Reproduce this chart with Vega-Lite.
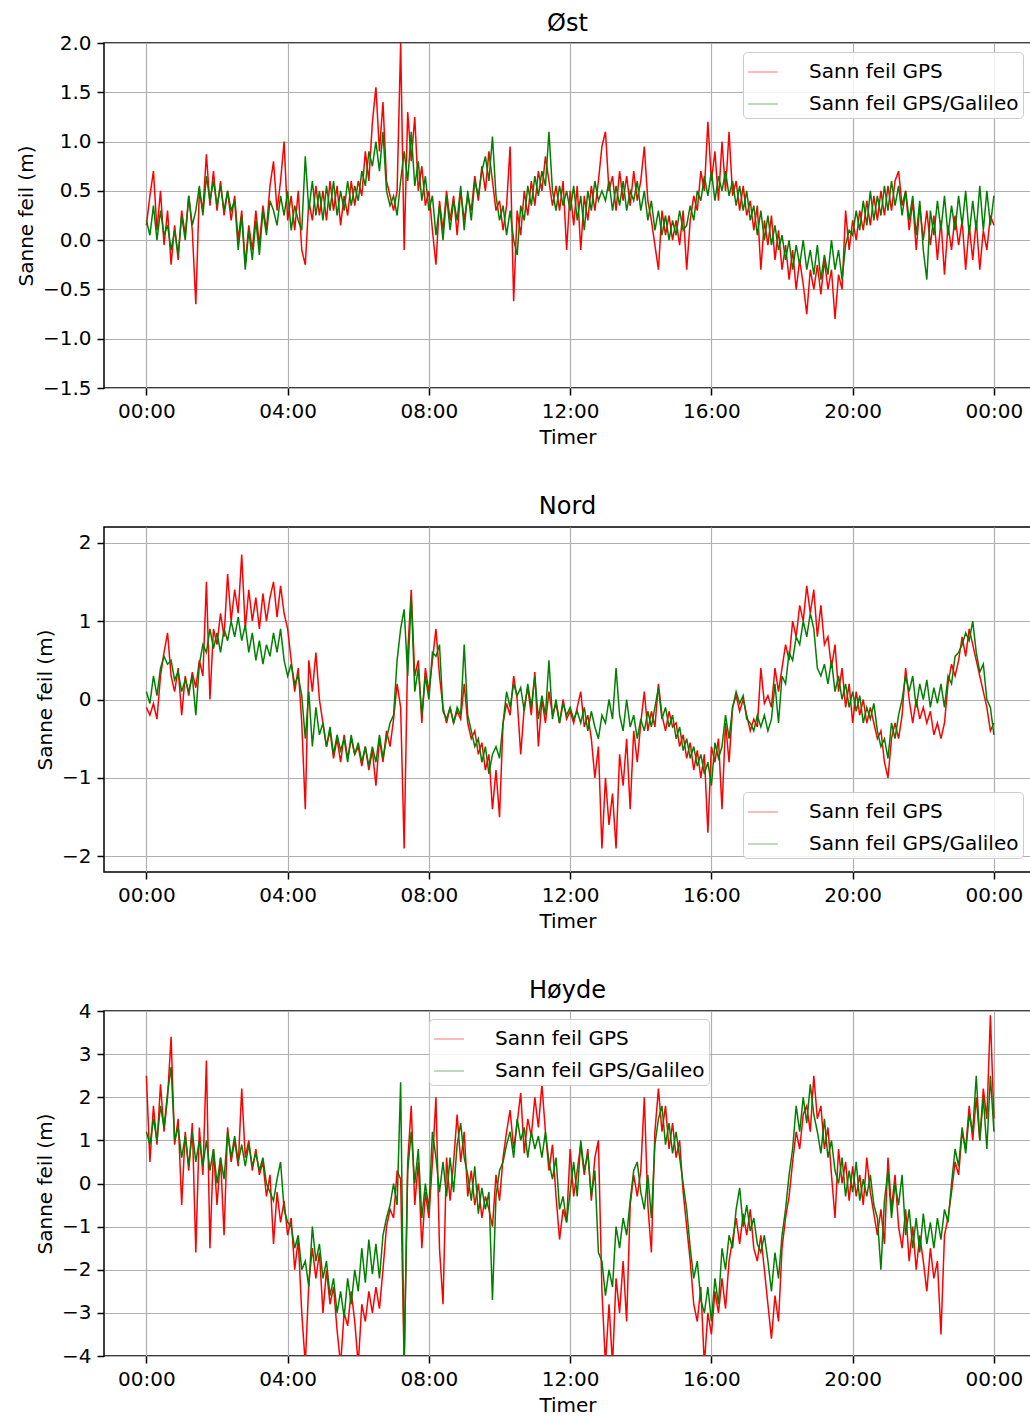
{
"$schema": "https://vega.github.io/schema/vega-lite/v6.json",
"padding": {"left": 15, "top": 11, "right": 0, "bottom": 0},
"spacing": 46,
"resolve": {"scale": {"color": "independent"}, "legend": {"color": "independent"}},
"config": {
 "font": "DejaVu Sans",
 "view": {"stroke": "black", "strokeWidth": 1.5},
 "axis": {"labelFontSize": 20, "titleFontSize": 20, "labelColor": "black", "titleColor": "black", "titleFontWeight": "normal", "domain": false, "tickColor": "black", "tickSize": 7, "tickWidth": 1.5, "labelPadding": 6, "titlePadding": 6, "gridColor": "#b0b0b0", "gridWidth": 1.2, "gridOpacity": 1, "labelFont": "DejaVu Sans", "titleFont": "DejaVu Sans"},
 "title": {"fontSize": 24, "fontWeight": "normal", "font": "DejaVu Sans", "color": "black"},
 "legend": {"strokeColor": "#cccccc", "fillColor": "rgba(255,255,255,0.85)", "cornerRadius": 4, "padding": 4, "labelFontSize": 20, "labelFont": "DejaVu Sans", "labelColor": "black", "labelLimit": 400, "symbolType": "stroke", "symbolSize": 900, "symbolStrokeWidth": 1.5, "labelOffset": 30, "rowPadding": 6}
},
"datasets": {
"E": [
{"t":0,"a":0.15,"b":0.2},{"t":1,"a":0.45,"b":0.05},{"t":2,"a":0.7,"b":0.35},{"t":3,"a":0.1,"b":0.0},{"t":4,"a":0.5,"b":0.3},{"t":5,"a":-0.05,"b":0.05},{"t":6,"a":0.3,"b":0.15},{"t":7,"a":-0.25,"b":-0.1},{"t":8,"a":0.15,"b":0.1},{"t":9,"a":-0.2,"b":-0.15},
{"t":10,"a":0.3,"b":0.25},{"t":11,"a":0.05,"b":0.0},{"t":12,"a":0.45,"b":0.45},{"t":13,"a":0.1,"b":0.15},{"t":14,"a":-0.65,"b":0.3},{"t":15,"a":0.5,"b":0.55},{"t":16,"a":0.3,"b":0.25},{"t":17,"a":0.87,"b":0.65},{"t":18,"a":0.35,"b":0.4},{"t":19,"a":0.7,"b":0.6},
{"t":20,"a":0.3,"b":0.35},{"t":21,"a":0.6,"b":0.55},{"t":22,"a":0.25,"b":0.3},{"t":23,"a":0.5,"b":0.5},{"t":24,"a":0.2,"b":0.3},{"t":25,"a":0.45,"b":0.4},{"t":26,"a":0.0,"b":-0.1},{"t":27,"a":0.3,"b":0.25},{"t":28,"a":-0.25,"b":-0.3},{"t":29,"a":0.15,"b":0.1},
{"t":30,"a":-0.1,"b":-0.2},{"t":31,"a":0.3,"b":0.2},{"t":32,"a":-0.05,"b":-0.15},{"t":33,"a":0.35,"b":0.3},{"t":34,"a":0.1,"b":0.05},{"t":35,"a":0.55,"b":0.4},{"t":36,"a":0.8,"b":0.3},{"t":37,"a":0.3,"b":0.15},{"t":38,"a":0.6,"b":0.45},{"t":39,"a":1.0,"b":0.25},
{"t":40,"a":0.2,"b":0.5},{"t":41,"a":0.45,"b":0.1},{"t":42,"a":0.1,"b":0.35},{"t":43,"a":0.5,"b":0.2},{"t":44,"a":-0.1,"b":0.1},{"t":45,"a":-0.25,"b":0.85},{"t":46,"a":0.4,"b":0.3},{"t":47,"a":0.2,"b":0.6},{"t":48,"a":0.55,"b":0.25},{"t":49,"a":0.25,"b":0.5},
{"t":50,"a":0.5,"b":0.2},{"t":51,"a":0.2,"b":0.55},{"t":52,"a":0.6,"b":0.3},{"t":53,"a":0.3,"b":0.6},{"t":54,"a":0.55,"b":0.25},{"t":55,"a":0.15,"b":0.5},{"t":56,"a":0.45,"b":0.3},{"t":57,"a":0.25,"b":0.6},{"t":58,"a":0.6,"b":0.35},{"t":59,"a":0.35,"b":0.55},
{"t":60,"a":0.6,"b":0.4},{"t":61,"a":0.45,"b":0.7},{"t":62,"a":0.9,"b":0.55},{"t":63,"a":0.6,"b":0.9},{"t":64,"a":1.2,"b":0.75},{"t":65,"a":1.55,"b":1.0},{"t":66,"a":0.9,"b":0.7},{"t":67,"a":1.4,"b":1.1},{"t":68,"a":0.6,"b":0.5},{"t":69,"a":0.45,"b":0.35},
{"t":70,"a":0.3,"b":0.45},{"t":71,"a":0.5,"b":0.25},{"t":72,"a":2.0,"b":0.6},{"t":73,"a":-0.1,"b":0.9},{"t":74,"a":1.3,"b":0.6},{"t":75,"a":0.8,"b":1.1},{"t":76,"a":1.25,"b":0.55},{"t":77,"a":0.5,"b":0.8},{"t":78,"a":0.75,"b":0.4},{"t":79,"a":0.35,"b":0.65},
{"t":80,"a":0.5,"b":0.3},{"t":81,"a":0.1,"b":0.45},{"t":82,"a":-0.25,"b":0.05},{"t":83,"a":0.4,"b":0.35},{"t":84,"a":0.1,"b":0.0},{"t":85,"a":0.5,"b":0.45},{"t":86,"a":0.2,"b":0.1},{"t":87,"a":0.45,"b":0.4},{"t":88,"a":0.05,"b":0.2},{"t":89,"a":0.5,"b":0.55},
{"t":90,"a":0.2,"b":0.1},{"t":91,"a":0.45,"b":0.5},{"t":92,"a":0.3,"b":0.2},{"t":93,"a":0.65,"b":0.6},{"t":94,"a":0.4,"b":0.45},{"t":95,"a":0.75,"b":0.7},{"t":96,"a":0.5,"b":0.85},{"t":97,"a":0.9,"b":0.6},{"t":98,"a":0.6,"b":1.05},{"t":99,"a":0.3,"b":0.45},
{"t":100,"a":0.4,"b":0.2},{"t":101,"a":0.1,"b":0.35},{"t":102,"a":0.35,"b":0.05},{"t":103,"a":0.95,"b":0.3},{"t":104,"a":-0.62,"b":0.0},{"t":105,"a":0.3,"b":-0.15},{"t":106,"a":0.05,"b":0.35},{"t":107,"a":0.5,"b":0.2},{"t":108,"a":0.25,"b":0.55},{"t":109,"a":0.6,"b":0.35},
{"t":110,"a":0.35,"b":0.65},{"t":111,"a":0.7,"b":0.45},{"t":112,"a":0.5,"b":0.7},{"t":113,"a":0.85,"b":0.55},{"t":114,"a":0.6,"b":1.1},{"t":115,"a":0.35,"b":0.5},{"t":116,"a":0.55,"b":0.3},{"t":117,"a":0.3,"b":0.55},{"t":118,"a":0.6,"b":0.35},{"t":119,"a":-0.1,"b":0.5},
{"t":120,"a":0.5,"b":0.3},{"t":121,"a":0.15,"b":0.55},{"t":122,"a":0.55,"b":0.2},{"t":123,"a":-0.1,"b":0.45},{"t":124,"a":0.45,"b":0.1},{"t":125,"a":0.2,"b":0.5},{"t":126,"a":0.55,"b":0.3},{"t":127,"a":0.3,"b":0.6},{"t":128,"a":0.6,"b":0.4},{"t":129,"a":0.95,"b":0.5},
{"t":130,"a":1.1,"b":0.4},{"t":131,"a":0.5,"b":0.6},{"t":132,"a":0.65,"b":0.3},{"t":133,"a":0.3,"b":0.55},{"t":134,"a":0.7,"b":0.35},{"t":135,"a":0.4,"b":0.6},{"t":136,"a":0.65,"b":0.3},{"t":137,"a":0.35,"b":0.5},{"t":138,"a":0.7,"b":0.4},{"t":139,"a":0.4,"b":0.6},
{"t":140,"a":0.6,"b":0.3},{"t":141,"a":0.95,"b":0.5},{"t":142,"a":0.4,"b":0.2},{"t":143,"a":0.2,"b":0.4},{"t":144,"a":-0.05,"b":0.1},{"t":145,"a":-0.3,"b":0.3},{"t":146,"a":0.3,"b":0.05},{"t":147,"a":0.05,"b":0.25},{"t":148,"a":0.25,"b":0.0},{"t":149,"a":0.0,"b":0.2},
{"t":150,"a":0.2,"b":0.05},{"t":151,"a":-0.05,"b":0.3},{"t":152,"a":0.3,"b":0.1},{"t":153,"a":-0.3,"b":0.15},{"t":154,"a":0.2,"b":0.35},{"t":155,"a":0.45,"b":0.2},{"t":156,"a":0.3,"b":0.5},{"t":157,"a":0.7,"b":0.4},{"t":158,"a":0.5,"b":0.65},{"t":159,"a":1.2,"b":0.45},
{"t":160,"a":0.6,"b":0.7},{"t":161,"a":0.9,"b":0.4},{"t":162,"a":0.4,"b":0.65},{"t":163,"a":1.0,"b":0.5},{"t":164,"a":0.5,"b":0.7},{"t":165,"a":1.1,"b":0.45},{"t":166,"a":0.45,"b":0.6},{"t":167,"a":0.6,"b":0.35},{"t":168,"a":0.3,"b":0.55},{"t":169,"a":0.55,"b":0.3},
{"t":170,"a":0.25,"b":0.5},{"t":171,"a":0.4,"b":0.2},{"t":172,"a":0.1,"b":0.35},{"t":173,"a":0.35,"b":0.05},{"t":174,"a":-0.3,"b":0.3},{"t":175,"a":0.2,"b":0.0},{"t":176,"a":-0.05,"b":0.25},{"t":177,"a":0.25,"b":-0.05},{"t":178,"a":-0.2,"b":0.15},{"t":179,"a":0.1,"b":-0.1},
{"t":180,"a":-0.3,"b":0.05},{"t":181,"a":-0.05,"b":-0.2},{"t":182,"a":-0.4,"b":0.0},{"t":183,"a":-0.1,"b":-0.3},{"t":184,"a":-0.5,"b":-0.05},{"t":185,"a":-0.2,"b":-0.25},{"t":186,"a":-0.45,"b":0.0},{"t":187,"a":-0.75,"b":-0.3},{"t":188,"a":-0.3,"b":-0.1},{"t":189,"a":-0.5,"b":-0.35},
{"t":190,"a":-0.25,"b":-0.05},{"t":191,"a":-0.55,"b":-0.4},{"t":192,"a":-0.2,"b":-0.15},{"t":193,"a":-0.5,"b":-0.35},{"t":194,"a":-0.3,"b":0.0},{"t":195,"a":-0.8,"b":-0.3},{"t":196,"a":-0.35,"b":-0.1},{"t":197,"a":-0.5,"b":-0.4},{"t":198,"a":0.3,"b":-0.05},{"t":199,"a":-0.1,"b":0.1},
{"t":200,"a":0.2,"b":0.05},{"t":201,"a":0.0,"b":0.3},{"t":202,"a":0.3,"b":0.1},{"t":203,"a":0.1,"b":0.4},{"t":204,"a":0.4,"b":0.15},{"t":205,"a":0.15,"b":0.5},{"t":206,"a":0.45,"b":0.2},{"t":207,"a":0.2,"b":0.45},{"t":208,"a":0.5,"b":0.25},{"t":209,"a":0.25,"b":0.55},
{"t":210,"a":0.55,"b":0.3},{"t":211,"a":0.3,"b":0.6},{"t":212,"a":0.6,"b":0.35},{"t":213,"a":0.7,"b":0.55},{"t":214,"a":0.35,"b":0.25},{"t":215,"a":0.5,"b":0.5},{"t":216,"a":0.1,"b":0.2},{"t":217,"a":0.4,"b":0.45},{"t":218,"a":-0.1,"b":0.05},{"t":219,"a":0.35,"b":0.4},
{"t":220,"a":0.0,"b":-0.1},{"t":221,"a":0.3,"b":-0.4},{"t":222,"a":-0.05,"b":0.3},{"t":223,"a":0.25,"b":0.05},{"t":224,"a":-0.2,"b":0.4},{"t":225,"a":0.2,"b":0.1},{"t":226,"a":-0.35,"b":0.45},{"t":227,"a":0.15,"b":0.05},{"t":228,"a":-0.1,"b":0.35},{"t":229,"a":0.25,"b":0.1},
{"t":230,"a":-0.05,"b":0.45},{"t":231,"a":0.2,"b":0.15},{"t":232,"a":-0.3,"b":0.5},{"t":233,"a":0.15,"b":0.05},{"t":234,"a":-0.2,"b":0.4},{"t":235,"a":0.2,"b":0.1},{"t":236,"a":-0.3,"b":0.55},{"t":237,"a":0.1,"b":0.1},{"t":238,"a":-0.1,"b":0.5},{"t":239,"a":0.25,"b":0.15},
{"t":240,"a":0.15,"b":0.45}
],
"N": [
{"t":0,"a":-0.1,"b":0.1},{"t":1,"a":-0.2,"b":-0.05},{"t":2,"a":-0.05,"b":0.3},{"t":3,"a":-0.25,"b":0.05},{"t":4,"a":0.3,"b":0.4},{"t":5,"a":0.6,"b":0.55},{"t":6,"a":0.85,"b":0.45},{"t":7,"a":0.3,"b":0.5},{"t":8,"a":0.1,"b":0.25},{"t":9,"a":0.4,"b":0.35},
{"t":10,"a":-0.2,"b":0.1},{"t":11,"a":0.3,"b":0.25},{"t":12,"a":0.05,"b":0.1},{"t":13,"a":0.35,"b":0.3},{"t":14,"a":0.15,"b":-0.2},{"t":15,"a":0.5,"b":0.45},{"t":16,"a":0.3,"b":0.7},{"t":17,"a":1.5,"b":0.6},{"t":18,"a":0.0,"b":0.9},{"t":19,"a":0.9,"b":0.65},
{"t":20,"a":0.7,"b":0.85},{"t":21,"a":1.1,"b":0.6},{"t":22,"a":0.8,"b":0.9},{"t":23,"a":1.6,"b":0.75},{"t":24,"a":1.0,"b":1.0},{"t":25,"a":1.4,"b":0.8},{"t":26,"a":1.1,"b":1.05},{"t":27,"a":1.85,"b":0.75},{"t":28,"a":0.9,"b":0.95},{"t":29,"a":1.4,"b":0.6},
{"t":30,"a":1.0,"b":0.85},{"t":31,"a":1.3,"b":0.5},{"t":32,"a":0.9,"b":0.75},{"t":33,"a":1.35,"b":0.45},{"t":34,"a":1.0,"b":0.7},{"t":35,"a":1.3,"b":0.55},{"t":36,"a":1.5,"b":0.85},{"t":37,"a":1.05,"b":0.6},{"t":38,"a":1.45,"b":0.9},{"t":39,"a":1.1,"b":0.5},
{"t":40,"a":0.9,"b":0.3},{"t":41,"a":0.5,"b":0.45},{"t":42,"a":0.1,"b":0.2},{"t":43,"a":0.4,"b":0.3},{"t":44,"a":-0.3,"b":0.05},{"t":45,"a":-1.4,"b":-0.5},{"t":46,"a":0.5,"b":0.1},{"t":47,"a":0.1,"b":-0.6},{"t":48,"a":0.6,"b":-0.1},{"t":49,"a":0.0,"b":-0.45},
{"t":50,"a":-0.3,"b":-0.3},{"t":51,"a":-0.6,"b":-0.6},{"t":52,"a":-0.4,"b":-0.35},{"t":53,"a":-0.75,"b":-0.7},{"t":54,"a":-0.5,"b":-0.45},{"t":55,"a":-0.8,"b":-0.65},{"t":56,"a":-0.45,"b":-0.5},{"t":57,"a":-0.75,"b":-0.8},{"t":58,"a":-0.5,"b":-0.45},{"t":59,"a":-0.7,"b":-0.7},
{"t":60,"a":-0.6,"b":-0.55},{"t":61,"a":-0.85,"b":-0.8},{"t":62,"a":-0.6,"b":-0.6},{"t":63,"a":-0.9,"b":-0.85},{"t":64,"a":-0.65,"b":-0.6},{"t":65,"a":-1.1,"b":-0.8},{"t":66,"a":-0.5,"b":-0.45},{"t":67,"a":-0.8,"b":-0.75},{"t":68,"a":-0.4,"b":-0.5},{"t":69,"a":-0.6,"b":-0.3},
{"t":70,"a":-0.25,"b":-0.2},{"t":71,"a":0.2,"b":0.5},{"t":72,"a":-0.1,"b":0.9},{"t":73,"a":-1.9,"b":1.15},{"t":74,"a":0.6,"b":0.3},{"t":75,"a":1.4,"b":1.3},{"t":76,"a":0.3,"b":0.1},{"t":77,"a":0.5,"b":0.4},{"t":78,"a":-0.3,"b":-0.2},{"t":79,"a":0.4,"b":0.3},
{"t":80,"a":0.1,"b":0.0},{"t":81,"a":0.5,"b":0.6},{"t":82,"a":0.9,"b":0.55},{"t":83,"a":0.3,"b":0.7},{"t":84,"a":-0.1,"b":-0.15},{"t":85,"a":-0.3,"b":-0.25},{"t":86,"a":-0.1,"b":-0.1},{"t":87,"a":-0.3,"b":-0.3},{"t":88,"a":-0.15,"b":-0.1},{"t":89,"a":-0.25,"b":-0.2},
{"t":90,"a":0.2,"b":0.7},{"t":91,"a":-0.3,"b":-0.2},{"t":92,"a":-0.5,"b":-0.4},{"t":93,"a":-0.4,"b":-0.6},{"t":94,"a":-0.7,"b":-0.5},{"t":95,"a":-0.55,"b":-0.8},{"t":96,"a":-0.9,"b":-0.6},{"t":97,"a":-0.7,"b":-0.95},{"t":98,"a":-1.4,"b":-0.7},{"t":99,"a":-0.9,"b":-0.6},
{"t":100,"a":-1.5,"b":-0.75},{"t":101,"a":-0.3,"b":-0.3},{"t":102,"a":-0.05,"b":0.1},{"t":103,"a":-0.2,"b":-0.1},{"t":104,"a":0.3,"b":0.2},{"t":105,"a":0.0,"b":0.05},{"t":106,"a":-0.7,"b":0.15},{"t":107,"a":-0.1,"b":-0.15},{"t":108,"a":0.15,"b":0.2},{"t":109,"a":-0.2,"b":-0.1},
{"t":110,"a":0.35,"b":0.3},{"t":111,"a":-0.6,"b":-0.25},{"t":112,"a":0.0,"b":0.05},{"t":113,"a":-0.3,"b":-0.2},{"t":114,"a":0.1,"b":0.5},{"t":115,"a":-0.2,"b":-0.25},{"t":116,"a":-0.05,"b":0.0},{"t":117,"a":-0.3,"b":-0.3},{"t":118,"a":0.0,"b":-0.05},{"t":119,"a":-0.25,"b":-0.2},
{"t":120,"a":-0.15,"b":-0.1},{"t":121,"a":-0.3,"b":-0.25},{"t":122,"a":-0.1,"b":-0.15},{"t":123,"a":0.1,"b":-0.3},{"t":124,"a":-0.35,"b":-0.1},{"t":125,"a":-0.2,"b":-0.4},{"t":126,"a":-0.5,"b":-0.15},{"t":127,"a":-1.0,"b":-0.35},{"t":128,"a":-0.6,"b":-0.5},{"t":129,"a":-1.9,"b":-0.2},
{"t":130,"a":-1.0,"b":-0.3},{"t":131,"a":-1.6,"b":0.0},{"t":132,"a":-1.2,"b":-0.25},{"t":133,"a":-1.9,"b":0.4},{"t":134,"a":-0.7,"b":-0.2},{"t":135,"a":-1.1,"b":-0.4},{"t":136,"a":-0.5,"b":0.0},{"t":137,"a":-1.4,"b":-0.35},{"t":138,"a":-0.4,"b":-0.2},{"t":139,"a":-0.8,"b":-0.5},
{"t":140,"a":-0.3,"b":-0.25},{"t":141,"a":0.1,"b":-0.4},{"t":142,"a":-0.4,"b":-0.15},{"t":143,"a":-0.15,"b":-0.35},{"t":144,"a":-0.35,"b":-0.1},{"t":145,"a":0.2,"b":0.15},{"t":146,"a":-0.2,"b":-0.25},{"t":147,"a":-0.4,"b":-0.1},{"t":148,"a":-0.15,"b":-0.35},{"t":149,"a":-0.35,"b":-0.2},
{"t":150,"a":-0.3,"b":-0.5},{"t":151,"a":-0.6,"b":-0.35},{"t":152,"a":-0.45,"b":-0.65},{"t":153,"a":-0.75,"b":-0.5},{"t":154,"a":-0.55,"b":-0.75},{"t":155,"a":-0.9,"b":-0.6},{"t":156,"a":-0.65,"b":-0.85},{"t":157,"a":-1.0,"b":-0.7},{"t":158,"a":-0.7,"b":-0.95},{"t":159,"a":-1.7,"b":-0.8},
{"t":160,"a":-0.6,"b":-1.1},{"t":161,"a":-0.8,"b":-0.55},{"t":162,"a":-0.5,"b":-0.75},{"t":163,"a":-1.4,"b":-0.6},{"t":164,"a":-0.3,"b":-0.2},{"t":165,"a":-0.8,"b":-0.5},{"t":166,"a":-0.1,"b":-0.1},{"t":167,"a":0.05,"b":0.1},{"t":168,"a":-0.15,"b":-0.05},{"t":169,"a":0.0,"b":0.05},
{"t":170,"a":-0.2,"b":-0.25},{"t":171,"a":-0.4,"b":-0.3},{"t":172,"a":-0.25,"b":-0.4},{"t":173,"a":-0.35,"b":-0.2},{"t":174,"a":0.4,"b":-0.35},{"t":175,"a":-0.05,"b":-0.2},{"t":176,"a":0.05,"b":-0.4},{"t":177,"a":-0.1,"b":-0.25},{"t":178,"a":0.4,"b":0.2},{"t":179,"a":0.1,"b":-0.3},
{"t":180,"a":0.4,"b":0.3},{"t":181,"a":0.7,"b":0.2},{"t":182,"a":0.5,"b":0.6},{"t":183,"a":1.0,"b":0.5},{"t":184,"a":0.8,"b":0.8},{"t":185,"a":1.2,"b":0.7},{"t":186,"a":1.0,"b":1.0},{"t":187,"a":1.45,"b":0.8},{"t":188,"a":1.1,"b":1.1},{"t":189,"a":1.4,"b":0.9},
{"t":190,"a":0.8,"b":0.4},{"t":191,"a":1.2,"b":0.3},{"t":192,"a":0.7,"b":0.45},{"t":193,"a":0.8,"b":0.2},{"t":194,"a":0.4,"b":0.5},{"t":195,"a":0.7,"b":0.1},{"t":196,"a":0.1,"b":0.3},{"t":197,"a":0.4,"b":0.0},{"t":198,"a":-0.1,"b":0.2},{"t":199,"a":0.2,"b":-0.1},
{"t":200,"a":-0.3,"b":0.1},{"t":201,"a":0.1,"b":-0.15},{"t":202,"a":-0.2,"b":0.05},{"t":203,"a":0.0,"b":-0.3},{"t":204,"a":-0.3,"b":-0.1},{"t":205,"a":-0.1,"b":-0.25},{"t":206,"a":-0.3,"b":-0.05},{"t":207,"a":-0.5,"b":-0.4},{"t":208,"a":-0.4,"b":-0.6},{"t":209,"a":-0.8,"b":-0.5},
{"t":210,"a":-1.0,"b":-0.75},{"t":211,"a":-0.5,"b":-0.3},{"t":212,"a":-0.3,"b":-0.5},{"t":213,"a":-0.5,"b":-0.2},{"t":214,"a":-0.2,"b":0.0},{"t":215,"a":0.4,"b":0.3},{"t":216,"a":0.0,"b":0.1},{"t":217,"a":-0.3,"b":0.3},{"t":218,"a":0.0,"b":-0.1},{"t":219,"a":-0.25,"b":0.2},
{"t":220,"a":-0.1,"b":0.0},{"t":221,"a":-0.3,"b":0.25},{"t":222,"a":-0.15,"b":-0.1},{"t":223,"a":-0.45,"b":0.15},{"t":224,"a":-0.3,"b":-0.05},{"t":225,"a":-0.5,"b":0.2},{"t":226,"a":-0.3,"b":-0.1},{"t":227,"a":0.2,"b":0.3},{"t":228,"a":0.45,"b":0.2},{"t":229,"a":0.3,"b":0.55},
{"t":230,"a":0.5,"b":0.6},{"t":231,"a":0.8,"b":0.7},{"t":232,"a":0.55,"b":0.85},{"t":233,"a":0.9,"b":0.75},{"t":234,"a":0.7,"b":1.0},{"t":235,"a":0.5,"b":0.6},{"t":236,"a":0.3,"b":0.35},{"t":237,"a":0.1,"b":0.45},{"t":238,"a":-0.1,"b":0.0},{"t":239,"a":-0.4,"b":-0.1},
{"t":240,"a":-0.3,"b":-0.45}
],
"U": [
{"t":0,"a":2.5,"b":1.2},{"t":1,"a":0.5,"b":0.9},{"t":2,"a":1.8,"b":1.5},{"t":3,"a":0.9,"b":1.0},{"t":4,"a":2.3,"b":1.8},{"t":5,"a":1.2,"b":1.3},{"t":6,"a":2.0,"b":2.1},{"t":7,"a":3.4,"b":2.7},{"t":8,"a":0.9,"b":1.0},{"t":9,"a":1.5,"b":1.3},
{"t":10,"a":-0.5,"b":0.6},{"t":11,"a":1.2,"b":1.1},{"t":12,"a":0.3,"b":0.4},{"t":13,"a":1.4,"b":1.2},{"t":14,"a":-1.6,"b":0.5},{"t":15,"a":1.3,"b":1.0},{"t":16,"a":0.2,"b":0.4},{"t":17,"a":2.85,"b":1.0},{"t":18,"a":-1.5,"b":0.3},{"t":19,"a":0.8,"b":0.8},
{"t":20,"a":-0.5,"b":0.0},{"t":21,"a":0.6,"b":0.6},{"t":22,"a":-1.2,"b":0.1},{"t":23,"a":1.3,"b":1.2},{"t":24,"a":0.5,"b":0.6},{"t":25,"a":1.0,"b":1.1},{"t":26,"a":0.4,"b":0.5},{"t":27,"a":2.2,"b":0.9},{"t":28,"a":0.6,"b":0.4},{"t":29,"a":1.0,"b":0.9},
{"t":30,"a":0.3,"b":0.4},{"t":31,"a":0.8,"b":0.7},{"t":32,"a":0.2,"b":0.3},{"t":33,"a":0.5,"b":0.6},{"t":34,"a":-0.3,"b":0.0},{"t":35,"a":0.2,"b":-0.2},{"t":36,"a":-1.4,"b":-0.4},{"t":37,"a":-0.2,"b":0.1},{"t":38,"a":-0.9,"b":0.5},{"t":39,"a":-0.4,"b":-0.6},
{"t":40,"a":-1.2,"b":-0.9},{"t":41,"a":-0.8,"b":-1.0},{"t":42,"a":-2.0,"b":-1.5},{"t":43,"a":-1.3,"b":-1.2},{"t":44,"a":-3.0,"b":-2.0},{"t":45,"a":-4.2,"b":-1.8},{"t":46,"a":-2.3,"b":-2.4},{"t":47,"a":-1.5,"b":-1.0},{"t":48,"a":-2.2,"b":-1.8},{"t":49,"a":-1.6,"b":-1.4},
{"t":50,"a":-3.0,"b":-2.2},{"t":51,"a":-2.0,"b":-1.8},{"t":52,"a":-2.8,"b":-2.6},{"t":53,"a":-2.4,"b":-2.2},{"t":54,"a":-3.4,"b":-3.0},{"t":55,"a":-4.2,"b":-2.5},{"t":56,"a":-3.0,"b":-3.1},{"t":57,"a":-3.3,"b":-2.2},{"t":58,"a":-2.5,"b":-2.8},{"t":59,"a":-3.2,"b":-2.0},
{"t":60,"a":-4.2,"b":-2.5},{"t":61,"a":-2.8,"b":-1.5},{"t":62,"a":-3.2,"b":-2.3},{"t":63,"a":-2.5,"b":-1.3},{"t":64,"a":-3.0,"b":-2.1},{"t":65,"a":-2.4,"b":-1.4},{"t":66,"a":-2.9,"b":-2.2},{"t":67,"a":-2.0,"b":-1.2},{"t":68,"a":-1.0,"b":-0.8},{"t":69,"a":-0.6,"b":-0.5},
{"t":70,"a":-0.8,"b":0.0},{"t":71,"a":0.3,"b":-0.5},{"t":72,"a":0.1,"b":2.35},{"t":73,"a":-4.2,"b":-4.2},{"t":74,"a":0.5,"b":0.3},{"t":75,"a":1.8,"b":1.2},{"t":76,"a":-0.5,"b":0.0},{"t":77,"a":0.5,"b":0.8},{"t":78,"a":-1.5,"b":-0.8},{"t":79,"a":-0.2,"b":0.0},
{"t":80,"a":-0.8,"b":-0.6},{"t":81,"a":0.5,"b":1.2},{"t":82,"a":2.0,"b":0.6},{"t":83,"a":-1.5,"b":-0.2},{"t":84,"a":-2.8,"b":0.5},{"t":85,"a":0.6,"b":-0.3},{"t":86,"a":-0.4,"b":0.6},{"t":87,"a":0.5,"b":-0.2},{"t":88,"a":1.6,"b":0.9},{"t":89,"a":0.5,"b":1.4},
{"t":90,"a":1.2,"b":0.6},{"t":91,"a":-0.3,"b":0.2},{"t":92,"a":0.3,"b":-0.4},{"t":93,"a":-0.5,"b":0.4},{"t":94,"a":0.0,"b":-0.7},{"t":95,"a":-0.8,"b":-0.1},{"t":96,"a":-0.3,"b":-0.6},{"t":97,"a":-0.6,"b":-0.2},{"t":98,"a":-1.0,"b":-2.7},{"t":99,"a":0.2,"b":-0.3},
{"t":100,"a":-0.4,"b":0.3},{"t":101,"a":0.6,"b":0.5},{"t":102,"a":1.2,"b":0.9},{"t":103,"a":1.7,"b":1.2},{"t":104,"a":0.8,"b":0.6},{"t":105,"a":1.4,"b":1.5},{"t":106,"a":2.1,"b":1.0},{"t":107,"a":0.7,"b":1.3},{"t":108,"a":1.5,"b":0.6},{"t":109,"a":1.1,"b":1.2},
{"t":110,"a":2.0,"b":0.8},{"t":111,"a":1.3,"b":1.1},{"t":112,"a":2.3,"b":0.6},{"t":113,"a":1.2,"b":1.2},{"t":114,"a":0.3,"b":0.5},{"t":115,"a":0.9,"b":0.1},{"t":116,"a":-0.3,"b":0.6},{"t":117,"a":-1.3,"b":-0.6},{"t":118,"a":-0.6,"b":-0.3},{"t":119,"a":-0.9,"b":-0.9},
{"t":120,"a":0.8,"b":-0.2},{"t":121,"a":-0.3,"b":0.5},{"t":122,"a":0.3,"b":-0.3},{"t":123,"a":0.9,"b":1.0},{"t":124,"a":0.2,"b":0.3},{"t":125,"a":0.8,"b":0.7},{"t":126,"a":-0.4,"b":-0.3},{"t":127,"a":0.6,"b":0.3},{"t":128,"a":1.0,"b":-1.6},{"t":129,"a":-2.5,"b":-1.8},
{"t":130,"a":-4.2,"b":-2.6},{"t":131,"a":-2.8,"b":-2.0},{"t":132,"a":-4.2,"b":-2.4},{"t":133,"a":-2.2,"b":-1.0},{"t":134,"a":-3.0,"b":-1.5},{"t":135,"a":-1.8,"b":-0.8},{"t":136,"a":-3.2,"b":-1.2},{"t":137,"a":-0.5,"b":-0.4},{"t":138,"a":0.2,"b":0.3},{"t":139,"a":-0.3,"b":0.5},
{"t":140,"a":0.3,"b":-0.2},{"t":141,"a":2.0,"b":-0.6},{"t":142,"a":-0.5,"b":0.2},{"t":143,"a":-1.6,"b":-0.8},{"t":144,"a":1.2,"b":0.9},{"t":145,"a":2.2,"b":1.5},{"t":146,"a":1.2,"b":1.8},{"t":147,"a":1.8,"b":0.9},{"t":148,"a":0.8,"b":1.4},{"t":149,"a":1.4,"b":0.7},
{"t":150,"a":0.6,"b":1.2},{"t":151,"a":1.0,"b":0.6},{"t":152,"a":-0.2,"b":0.0},{"t":153,"a":-1.0,"b":-0.6},{"t":154,"a":-1.8,"b":-1.5},{"t":155,"a":-2.8,"b":-2.2},{"t":156,"a":-3.2,"b":-1.8},{"t":157,"a":-2.4,"b":-2.7},{"t":158,"a":-4.2,"b":-3.0},{"t":159,"a":-3.0,"b":-2.4},
{"t":160,"a":-3.5,"b":-3.2},{"t":161,"a":-2.5,"b":-2.2},{"t":162,"a":-3.0,"b":-2.8},{"t":163,"a":-2.2,"b":-1.5},{"t":164,"a":-2.9,"b":-2.0},{"t":165,"a":-1.8,"b":-1.2},{"t":166,"a":-1.3,"b":-1.5},{"t":167,"a":-0.8,"b":-0.6},{"t":168,"a":-1.4,"b":-0.1},{"t":169,"a":-0.7,"b":-1.0},
{"t":170,"a":-1.2,"b":-0.5},{"t":171,"a":-0.6,"b":-1.1},{"t":172,"a":-1.5,"b":-0.8},{"t":173,"a":-1.8,"b":-1.4},{"t":174,"a":-1.2,"b":-1.6},{"t":175,"a":-2.0,"b":-1.2},{"t":176,"a":-2.8,"b":-1.8},{"t":177,"a":-3.6,"b":-2.5},{"t":178,"a":-2.6,"b":-1.6},{"t":179,"a":-3.2,"b":-2.2},
{"t":180,"a":-1.5,"b":-1.2},{"t":181,"a":-0.8,"b":-0.6},{"t":182,"a":-0.3,"b":0.2},{"t":183,"a":0.5,"b":0.8},{"t":184,"a":1.2,"b":1.8},{"t":185,"a":0.8,"b":1.2},{"t":186,"a":1.6,"b":2.0},{"t":187,"a":1.8,"b":1.4},{"t":188,"a":1.2,"b":2.3},{"t":189,"a":2.5,"b":1.6},
{"t":190,"a":1.5,"b":1.2},{"t":191,"a":1.8,"b":0.7},{"t":192,"a":0.8,"b":1.5},{"t":193,"a":1.3,"b":0.6},{"t":194,"a":0.2,"b":1.0},{"t":195,"a":-0.8,"b":0.3},{"t":196,"a":0.8,"b":0.0},{"t":197,"a":0.0,"b":0.6},{"t":198,"a":0.5,"b":-0.3},{"t":199,"a":-0.4,"b":0.3},
{"t":200,"a":0.4,"b":-0.2},{"t":201,"a":-0.3,"b":0.5},{"t":202,"a":0.2,"b":-0.4},{"t":203,"a":-0.5,"b":0.1},{"t":204,"a":0.6,"b":-0.3},{"t":205,"a":-0.2,"b":0.2},{"t":206,"a":-0.7,"b":-0.5},{"t":207,"a":-1.2,"b":-0.8},{"t":208,"a":-0.6,"b":-2.0},{"t":209,"a":-1.4,"b":-0.4},
{"t":210,"a":0.6,"b":0.3},{"t":211,"a":-0.6,"b":-0.8},{"t":212,"a":0.2,"b":0.0},{"t":213,"a":-1.0,"b":-0.5},{"t":214,"a":-1.5,"b":0.2},{"t":215,"a":-0.6,"b":-1.2},{"t":216,"a":-1.8,"b":-0.6},{"t":217,"a":-1.0,"b":-1.5},{"t":218,"a":-2.0,"b":-0.8},{"t":219,"a":-1.2,"b":-1.6},
{"t":220,"a":-1.8,"b":-0.7},{"t":221,"a":-2.5,"b":-1.4},{"t":222,"a":-1.5,"b":-0.9},{"t":223,"a":-2.2,"b":-1.5},{"t":224,"a":-1.8,"b":-0.8},{"t":225,"a":-3.5,"b":-1.3},{"t":226,"a":-1.2,"b":-0.6},{"t":227,"a":-0.8,"b":-0.9},{"t":228,"a":-0.2,"b":0.0},{"t":229,"a":0.5,"b":0.8},
{"t":230,"a":0.2,"b":0.4},{"t":231,"a":1.2,"b":1.3},{"t":232,"a":0.8,"b":0.7},{"t":233,"a":1.8,"b":1.6},{"t":234,"a":1.0,"b":1.2},{"t":235,"a":2.0,"b":2.5},{"t":236,"a":1.0,"b":1.0},{"t":237,"a":2.2,"b":2.0},{"t":238,"a":1.5,"b":0.8},{"t":239,"a":3.9,"b":2.5},
{"t":240,"a":1.5,"b":1.2}
]
},
"vconcat": [
{
 "title": {"text": "Øst", "offset": -3}, "width": 927, "height": 345,
 "data": {"name": "E"},
 "encoding": {"x": {"field": "t", "type": "quantitative", "scale": {"domain": [-12, 250.5], "nice": false, "zero": false}, "axis": {"values": [0, 40, 80, 120, 160, 200, 240], "labelExpr": "datum.value==240?'00:00':(datum.value<100?'0':'')+datum.value/10+':00'", "title": "Timer"}}},
 "layer": [
  {"mark": {"type": "line", "clip": true, "strokeWidth": 1.5}, "encoding": {"y": {"field": "a", "type": "quantitative", "scale": {"domain": [-1.5, 2], "nice": false, "zero": false}, "axis": {"values": [-1.5, -1, -0.5, 0, 0.5, 1, 1.5, 2], "format": ".1f", "title": "Sanne feil (m)"}}, "color": {"datum": "Sann feil GPS", "scale": {"domain": ["Sann feil GPS", "Sann feil GPS/Galileo"], "range": ["#ff0000", "#008000"]}, "legend": {"title": null, "orient": "none", "legendX": 639, "legendY": 9, "symbolOpacity": 0.35}}}},
  {"mark": {"type": "line", "clip": true, "strokeWidth": 1.5}, "encoding": {"y": {"field": "b", "type": "quantitative", "axis": {"values": [-1.5, -1, -0.5, 0, 0.5, 1, 1.5, 2], "format": ".1f", "title": "Sanne feil (m)"}}, "color": {"datum": "Sann feil GPS/Galileo"}}}
 ]
},
{
 "title": {"text": "Nord", "offset": 8}, "width": 927, "height": 345,
 "data": {"name": "N"},
 "encoding": {"x": {"field": "t", "type": "quantitative", "scale": {"domain": [-12, 250.5], "nice": false, "zero": false}, "axis": {"values": [0, 40, 80, 120, 160, 200, 240], "labelExpr": "datum.value==240?'00:00':(datum.value<100?'0':'')+datum.value/10+':00'", "title": "Timer"}}},
 "layer": [
  {"mark": {"type": "line", "clip": true, "strokeWidth": 1.5}, "encoding": {"y": {"field": "a", "type": "quantitative", "scale": {"domain": [-2.2, 2.2], "nice": false, "zero": false}, "axis": {"values": [-2, -1, 0, 1, 2], "format": "d", "title": "Sanne feil (m)"}}, "color": {"datum": "Sann feil GPS", "scale": {"domain": ["Sann feil GPS", "Sann feil GPS/Galileo"], "range": ["#ff0000", "#008000"]}, "legend": {"title": null, "orient": "none", "legendX": 639, "legendY": 265, "symbolOpacity": 0.35}}}},
  {"mark": {"type": "line", "clip": true, "strokeWidth": 1.5}, "encoding": {"y": {"field": "b", "type": "quantitative", "axis": {"values": [-2, -1, 0, 1, 2], "format": "d", "title": "Sanne feil (m)"}}, "color": {"datum": "Sann feil GPS/Galileo"}}}
 ]
},
{
 "title": {"text": "Høyde", "offset": -2}, "width": 927, "height": 345,
 "data": {"name": "U"},
 "encoding": {"x": {"field": "t", "type": "quantitative", "scale": {"domain": [-12, 250.5], "nice": false, "zero": false}, "axis": {"values": [0, 40, 80, 120, 160, 200, 240], "labelExpr": "datum.value==240?'00:00':(datum.value<100?'0':'')+datum.value/10+':00'", "title": "Timer"}}},
 "layer": [
  {"mark": {"type": "line", "clip": true, "strokeWidth": 1.5}, "encoding": {"y": {"field": "a", "type": "quantitative", "scale": {"domain": [-4, 4], "nice": false, "zero": false}, "axis": {"values": [-4, -3, -2, -1, 0, 1, 2, 3, 4], "format": "d", "title": "Sanne feil (m)"}}, "color": {"datum": "Sann feil GPS", "scale": {"domain": ["Sann feil GPS", "Sann feil GPS/Galileo"], "range": ["#ff0000", "#008000"]}, "legend": {"title": null, "orient": "none", "legendX": 325, "legendY": 8, "symbolOpacity": 0.35}}}},
  {"mark": {"type": "line", "clip": true, "strokeWidth": 1.5}, "encoding": {"y": {"field": "b", "type": "quantitative", "axis": {"values": [-4, -3, -2, -1, 0, 1, 2, 3, 4], "format": "d", "title": "Sanne feil (m)"}}, "color": {"datum": "Sann feil GPS/Galileo"}}}
 ]
}
]
}
